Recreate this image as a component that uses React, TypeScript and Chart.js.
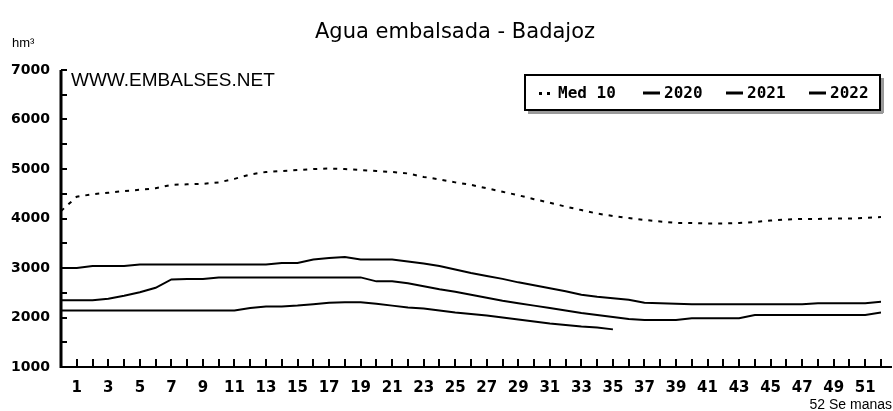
import React, { useEffect, useRef } from "react";
import { Chart, registerables } from "chart.js";

Chart.register(...registerables);

// Week index 0..52
const WEEKS = Array.from({ length: 53 }, (_, i) => i);

const LABELS = ["Med 10", "2020", "2021", "2022"];

const MED10 = [
  4150, 4440, 4490, 4520, 4555, 4580, 4610, 4680, 4690, 4700,
  4730, 4800, 4890, 4940, 4960, 4980, 5000, 5010, 5000, 4980,
  4960, 4940, 4910, 4840, 4790, 4730, 4680, 4610, 4540, 4470,
  4390, 4320, 4240, 4170, 4100, 4050, 4010, 3970, 3940, 3910,
  3910, 3900, 3900, 3910, 3930, 3960, 3980, 3990, 3990, 4000,
  4000, 4010, 4030,
];

const Y2020 = [
  3000, 3000, 3040, 3040, 3040, 3070, 3070, 3070, 3070, 3070,
  3070, 3070, 3070, 3070, 3100, 3100, 3170, 3200, 3220, 3170,
  3170, 3170, 3130, 3090, 3040, 2970, 2900, 2840, 2780, 2710,
  2650, 2590, 2530, 2460, 2420, 2390, 2360, 2300, 2290, 2280,
  2270, 2270, 2270, 2270, 2270, 2270, 2270, 2270, 2290, 2290,
  2290, 2290, 2320,
];

const Y2021 = [
  2350, 2350, 2350, 2380, 2440, 2510, 2600, 2770, 2780, 2780,
  2810, 2810, 2810, 2810, 2810, 2810, 2810, 2810, 2810, 2810,
  2730, 2730, 2690, 2630, 2570, 2520, 2460, 2400, 2340, 2290,
  2240, 2190, 2140, 2090, 2050, 2010, 1970, 1950, 1950, 1950,
  1985, 1985, 1985, 1985, 2050, 2050, 2050, 2050, 2050, 2050,
  2050, 2050, 2100,
];

const Y2022 = [
  2140, 2140, 2140, 2140, 2140, 2140, 2140, 2140, 2140, 2140,
  2140, 2140, 2190, 2220, 2220, 2240, 2270, 2300, 2310, 2310,
  2280, 2240, 2200, 2180, 2140, 2100, 2070, 2040, 2000, 1960,
  1920, 1880, 1850, 1820, 1800, 1760,
];

const Y_TICK_MARKS = [1500, 2000, 2500, 3000, 3500, 4000, 4500, 5000, 5500, 6000, 6500, 7000];

const toPoints = (arr: number[]) => arr.map((v, i) => ({ x: WEEKS[i], y: v }));

const decor = {
  id: "decor",
  beforeDraw(chart: any) {
    const { ctx, width, height } = chart;
    ctx.save();
    ctx.fillStyle = "#fff";
    ctx.fillRect(0, 0, width, height);
    ctx.restore();
  },
  afterDraw(chart: any) {
    const { ctx, chartArea } = chart;
    const xs = chart.scales.x;
    const ys = chart.scales.y;
    ctx.save();
    ctx.strokeStyle = "#000";
    ctx.fillStyle = "#000";

    // axes
    ctx.lineWidth = 3;
    ctx.beginPath();
    ctx.moveTo(chartArea.left, ys.getPixelForValue(7000));
    ctx.lineTo(chartArea.left, chartArea.bottom + 1);
    ctx.stroke();
    ctx.lineWidth = 2;
    ctx.beginPath();
    ctx.moveTo(chartArea.left, chartArea.bottom);
    ctx.lineTo(892, chartArea.bottom);
    ctx.stroke();

    // x tick marks (inward)
    ctx.lineWidth = 2;
    ctx.beginPath();
    for (const w of WEEKS) {
      if (w === 0) continue;
      const px = Math.round(xs.getPixelForValue(w));
      ctx.moveTo(px, chartArea.bottom);
      ctx.lineTo(px, chartArea.bottom - 8);
    }
    ctx.stroke();

    // y tick marks (inward)
    ctx.beginPath();
    for (const v of Y_TICK_MARKS) {
      const py = Math.round(ys.getPixelForValue(v));
      ctx.moveTo(chartArea.left, py);
      ctx.lineTo(chartArea.left + 6, py);
    }
    ctx.stroke();

    // title
    ctx.textBaseline = "middle";
    ctx.textAlign = "center";
    ctx.font = "21px 'DejaVu Sans'";
    ctx.fillText("Agua embalsada - Badajoz", 455, 33);

    // unit
    ctx.textAlign = "left";
    ctx.font = "13px 'Liberation Sans'";
    ctx.fillText("hm³", 12, 43);

    // watermark
    ctx.font = "19px 'Liberation Sans'";
    ctx.fillText("WWW.EMBALSES.NET", 71, 81);

    // axis caption
    ctx.textAlign = "right";
    ctx.font = "14px 'Liberation Sans'";
    ctx.fillText("52 Se manas", 892, 405);

    // legend
    const x1 = 525, y1 = 75, x2 = 880, y2 = 110;
    ctx.fillStyle = "#9a9a9a";
    ctx.fillRect(x1 + 3, y2 + 1, x2 - x1, 3);
    ctx.fillRect(x2 + 1, y1 + 3, 3, y2 - y1);
    ctx.fillStyle = "#fff";
    ctx.fillRect(x1, y1, x2 - x1, y2 - y1);
    ctx.lineWidth = 2;
    ctx.strokeStyle = "#000";
    ctx.strokeRect(x1, y1, x2 - x1, y2 - y1);

    const cy = 93;
    ctx.fillStyle = "#000";
    ctx.textAlign = "left";
    ctx.font = "bold 16px 'DejaVu Sans Mono'";
    // Med 10 marker: two dots
    ctx.fillRect(539, cy - 1, 3, 3);
    ctx.fillRect(547, cy - 1, 3, 3);
    ctx.fillText(LABELS[0], 558, cy + 1);
    const items = [
      { lx: 643, tx: 664, label: LABELS[1] },
      { lx: 726, tx: 747, label: LABELS[2] },
      { lx: 809, tx: 830, label: LABELS[3] },
    ];
    ctx.lineWidth = 3;
    for (const it of items) {
      ctx.beginPath();
      ctx.moveTo(it.lx, cy);
      ctx.lineTo(it.lx + 17, cy);
      ctx.stroke();
      ctx.fillText(it.label, it.tx, cy + 1);
    }
    ctx.restore();
  },
};

export default function App() {
  const ref = useRef<HTMLCanvasElement | null>(null);

  useEffect(() => {
    if (!ref.current) return;
    const chart = new Chart(ref.current, {
      type: "line",
      data: {
        datasets: [
          {
            label: LABELS[0],
            data: toPoints(MED10),
            borderColor: "#000",
            borderWidth: 2,
            borderDash: [4, 6],
            pointRadius: 0,
            tension: 0,
            fill: false,
          },
          {
            label: LABELS[1],
            data: toPoints(Y2020),
            borderColor: "#000",
            borderWidth: 2,
            pointRadius: 0,
            tension: 0,
            fill: false,
          },
          {
            label: LABELS[2],
            data: toPoints(Y2021),
            borderColor: "#000",
            borderWidth: 2,
            pointRadius: 0,
            tension: 0,
            fill: false,
          },
          {
            label: LABELS[3],
            data: toPoints(Y2022),
            borderColor: "#000",
            borderWidth: 2,
            pointRadius: 0,
            tension: 0,
            fill: false,
          },
        ],
      },
      options: {
        animation: false,
        responsive: false,
        maintainAspectRatio: false,
        layout: { padding: { top: 70, right: 4, left: 0, bottom: 0 } },
        plugins: {
          legend: { display: false },
          title: { display: false },
          tooltip: { enabled: false },
        },
        scales: {
          x: {
            type: "linear",
            min: 0,
            max: 52,
            grid: { display: false, drawTicks: false },
            border: { display: false },
            afterFit: (s: any) => {
              s.height = 44;
            },
            ticks: {
              stepSize: 1,
              autoSkip: false,
              maxRotation: 0,
              minRotation: 0,
              padding: 12,
              color: "#000",
              font: { family: "'DejaVu Sans'", size: 15, weight: "bold" },
              callback: (v: any) => (Number(v) % 2 === 1 && Number(v) < 52 ? String(v) : ""),
            },
          },
          y: {
            min: 1000,
            max: 7000,
            grid: { display: false, drawTicks: false },
            border: { display: false },
            afterFit: (s: any) => {
              s.width = 61;
            },
            ticks: {
              stepSize: 1000,
              padding: 11,
              color: "#000",
              font: { family: "'DejaVu Sans'", size: 14, weight: "bold" },
              callback: (v: any) => String(v),
            },
          },
        },
      },
      plugins: [decor],
    });
    return () => chart.destroy();
  }, []);

  return (
    <div style={{ position: "fixed", left: 0, top: 0, width: 893, height: 411, background: "#fff" }}>
      <canvas ref={ref} width={893} height={411} style={{ display: "block" }} />
    </div>
  );
}
